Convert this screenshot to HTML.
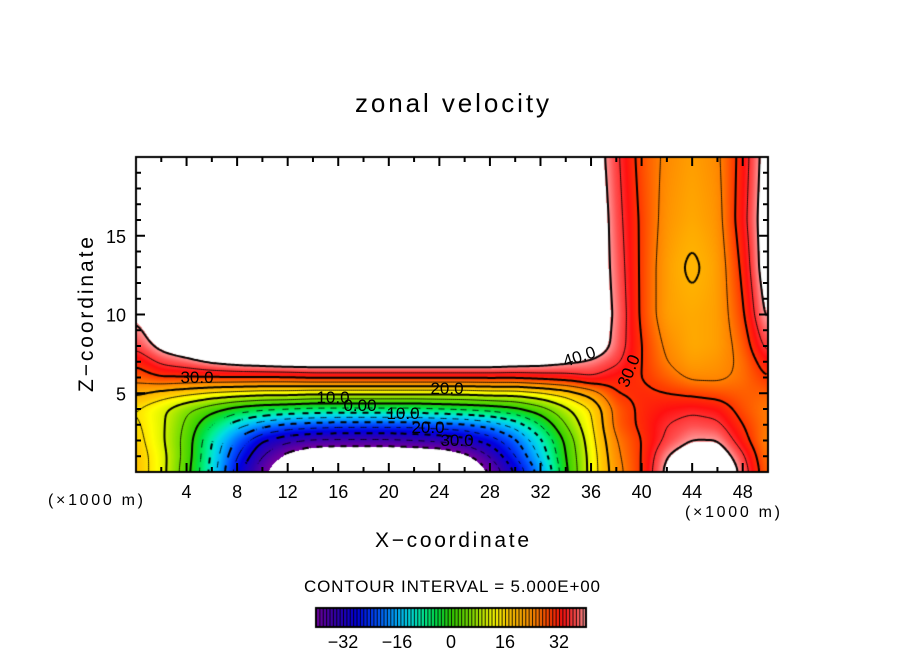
<!DOCTYPE html>
<html>
<head>
<meta charset="utf-8">
<style>
  html,body{margin:0;padding:0;background:#fff;}
  #root{position:relative;width:904px;height:654px;overflow:hidden;background:#fff;font-family:"Liberation Sans",sans-serif;}
  canvas{position:absolute;left:0;top:0;}
  svg{position:absolute;left:0;top:0;}
  text{font-family:"Liberation Sans",sans-serif;fill:#000;}
</style>
</head>
<body>
<div id="root">
<canvas id="field" width="904" height="654"></canvas>
<svg id="ov" width="904" height="654">
  <text x="355" y="112" font-size="26" textLength="194" lengthAdjust="spacing">zonal velocity</text>
  <text x="375" y="547" font-size="21" textLength="154" lengthAdjust="spacing">X−coordinate</text>
  <text transform="translate(93,392) rotate(-90)" font-size="21" textLength="155" lengthAdjust="spacing">Z−coordinate</text>
  <text x="48" y="505" font-size="16" textLength="95" lengthAdjust="spacing">(×1000 m)</text>
  <text x="685" y="517" font-size="16" textLength="95" lengthAdjust="spacing">(×1000 m)</text>
  <text x="304" y="592" font-size="17" textLength="296" lengthAdjust="spacing">CONTOUR INTERVAL = 5.000E+00</text>
  <g id="labels" font-size="17">
    <text x="197" y="383" text-anchor="middle">30.0</text>
    <text x="447" y="394" text-anchor="middle">20.0</text>
    <text x="333" y="403" text-anchor="middle">10.0</text>
    <text x="360" y="411" text-anchor="middle">0.00</text>
    <text x="403" y="419" text-anchor="middle">10.0</text>
    <text x="428" y="433" text-anchor="middle">20.0</text>
    <text x="457" y="446" text-anchor="middle">30.0</text>
    <text transform="translate(581,362) rotate(-18)" text-anchor="middle">40.0</text>
    <text transform="translate(634,373) rotate(-68)" text-anchor="middle">30.0</text>
  </g>
</svg>
</div>
<script>
// ---- data ----
const xs = [0,2,4,6,8,10,12,14,16,18,20,22,24,26,28,30,32,34,36,38,40,42,44,46,48,50];
const zs = [0,1,2,3,4,5,6,7,8,10,13,16,20];
const u_z0  = [18,12,2,-12,-28,-39,-48,-50,-50,-50,-50,-50,-50,-48,-40,-30,-18,-1,12,23,30,42,50,50,38,26];
const u_z1  = [18,12,3,-11,-25,-35,-42,-46,-47,-47,-47,-47,-46,-42,-35,-25,-14,0,12,24,30,40,45,45,36,25];
const u_z2  = [17,11,3,-10,-21,-30,-34,-36,-36,-36,-36,-35,-34,-32,-28,-21,-11,1,13,25,30,36,40,40,32,24];
const u_z3  = [16,11,4,-5,-13,-18,-21,-22,-23,-23,-23,-23,-22,-21,-18,-13,-5,5,14,27,31,35,37,36,30,25];
const u_z4  = [15,11,6,2,-2,-4,-5,-6,-6,-6,-6,-6,-5,-4,-3,-1,3,9,15,27,31,33,34,33,28,25];
const u_z5  = [21,18,16,14,13,12,12,11,11,11,11,11,11,11,12,12,14,17,22,30,31,30,29,28,27,27];
const u_z6  = [27,30,30,30,30,30,30,31,31,31,31,31,31,31,31,31,32,33,35,32,30,27,24,24,26,30];
const u_z7  = [31,36,38,41,43,44,45,45,45,45,45,45,45,45,45,44,43,41,39,36,30,25,22,23,26,33];
const u_z8  = [36,42,46,50,50,50,50,50,50,50,50,50,50,50,50,50,50,50,46,38,30,24,21,22,27,37];
const u_z10 = [41,48,50,50,50,50,50,50,50,50,50,50,50,50,50,50,50,50,46,39,29,22,21,22,29,42];
const u_z13 = [50,50,50,50,50,50,50,50,50,50,50,50,50,50,50,50,50,50,46,38,29,22,19,22,31,45];
const u_z16 = [50,50,50,50,50,50,50,50,50,50,50,50,50,50,50,50,50,50,47,37,29,23,21,23,33,45];
const u_z20 = [50,50,50,50,50,50,50,50,50,50,50,50,50,50,50,50,50,50,45,36,28,24,22,24,32,44];
const rows = [u_z0,u_z1,u_z2,u_z3,u_z4,u_z5,u_z6,u_z7,u_z8,u_z10,u_z13,u_z16,u_z20];
const levels = [-40,-35,-30,-25,-20,-15,-10,-5,0,5,10,15,20,25,30,35,40];
const xTicks = [4,8,12,16,20,24,28,32,36,40,44,48];
const zTicks = [5,10,15];
const cbTicks = [-32,-16,0,16,32];

// ---- axes ----
const L=136,R=768,T=157,B=472;
const X = x => L + x*(R-L)/50;
const Y = z => B - z*(B-T)/20;
const CBL=316, CBR=586, CBT=608, CBB=627;
const CX = v => CBL + (v+40)*(CBR-CBL)/80;

const stops=[[-40,[112,0,160]],[-34,[48,0,176]],[-28,[0,0,224]],[-22,[0,80,255]],[-16,[0,176,255]],[-12,[0,224,224]],[-8,[0,240,144]],[-4,[0,224,64]],[0,[48,208,0]],[6,[128,224,0]],[10,[208,240,0]],[13,[255,255,0]],[17,[255,200,0]],[21,[255,170,0]],[25,[255,128,0]],[29,[255,64,0]],[33,[255,16,16]],[37,[255,80,80]],[40,[255,154,154]]];
function cmap(v){
  if(v<=stops[0][0]) return stops[0][1];
  for(let i=0;i<stops.length-1;i++){
    const a=stops[i],b=stops[i+1];
    if(v<=b[0]){const t=(v-a[0])/(b[0]-a[0]);return [0,1,2].map(k=>Math.round(a[1][k]+t*(b[1][k]-a[1][k])));}
  }
  return stops[stops.length-1][1];
}
function val(x,z){
  let i=Math.min(Math.max(Math.floor(x/2),0),xs.length-2);
  const tx=Math.min(Math.max((x-xs[i])/(xs[i+1]-xs[i]),0),1);
  let j=0; while(j<zs.length-2 && z>zs[j+1]) j++;
  const tz=Math.min(Math.max((z-zs[j])/(zs[j+1]-zs[j]),0),1);
  const a=rows[j][i],b=rows[j][i+1],c=rows[j+1][i],d=rows[j+1][i+1];
  return (a*(1-tx)+b*tx)*(1-tz)+(c*(1-tx)+d*tx)*tz;
}
const cv=document.getElementById('field');
const ctx=cv.getContext('2d');
const W=R-L,H=B-T;
let F=new Float32Array(W*H);
for(let py=0;py<H;py++){
  const z=(B-(T+py+0.5))*20/(B-T);
  for(let px=0;px<W;px++) F[py*W+px]=val((px+0.5)*50/W,z);
}
function blurPass(src,rad){
  const tmp=new Float32Array(W*H), out=new Float32Array(W*H);
  for(let y=0;y<H;y++)for(let x=0;x<W;x++){
    let s=0,n=0;for(let k=-rad;k<=rad;k++){const xx=Math.min(Math.max(x+k,0),W-1);s+=src[y*W+xx];n++;}
    tmp[y*W+x]=s/n;
  }
  for(let y=0;y<H;y++)for(let x=0;x<W;x++){
    let s=0,n=0;for(let k=-rad;k<=rad;k++){const yy=Math.min(Math.max(y+k,0),H-1);s+=tmp[yy*W+x];n++;}
    out[y*W+x]=s/n;
  }
  return out;
}
F=blurPass(F,4);F=blurPass(F,4);F=blurPass(F,4);
const img=ctx.createImageData(W,H);
for(let p=0;p<W*H;p++){
  const v=F[p];const o=p*4;
  let c=[255,255,255];
  if(v>=-40.5 && v<=40.5) c=cmap(v);
  img.data[o]=c[0];img.data[o+1]=c[1];img.data[o+2]=c[2];img.data[o+3]=255;
}
ctx.putImageData(img,L,T);

const S=2, NX=Math.floor((W-1)/S), NY=Math.floor((H-1)/S);
const g=[];
for(let j=0;j<=NY;j++){g.push([]);for(let i=0;i<=NX;i++){g[j].push(F[(j*S)*W+(i*S)]);}}
ctx.save();
ctx.beginPath();ctx.rect(L,T,W,H);ctx.clip();
levels.forEach(lv=>{
  const thick = (lv%10===0);
  ctx.strokeStyle='#000';
  ctx.lineWidth = thick?2:0.9;
  ctx.beginPath();
  for(let j=0;j<NY;j++)for(let i=0;i<NX;i++){
    if(lv<0 && Math.floor((i+j)/3)%2===1) continue;
    const p=[[i,j,g[j][i]],[i+1,j,g[j][i+1]],[i+1,j+1,g[j+1][i+1]],[i,j+1,g[j+1][i]]];
    const pts=[];
    for(let k=0;k<4;k++){
      const a=p[k],b=p[(k+1)%4];
      if((a[2]<lv)!==(b[2]<lv)){
        const t=(lv-a[2])/(b[2]-a[2]);
        pts.push([L+0.5+(a[0]+t*(b[0]-a[0]))*S, T+0.5+(a[1]+t*(b[1]-a[1]))*S]);
      }
    }
    for(let k=0;k+1<pts.length;k+=2){ctx.moveTo(pts[k][0],pts[k][1]);ctx.lineTo(pts[k+1][0],pts[k+1][1]);}
  }
  ctx.stroke();
});
ctx.restore();

ctx.strokeStyle='#000';ctx.lineWidth=2;ctx.strokeRect(L,T,W,H);
for(let v=-40;v<40;v++){
  const c=cmap(v+0.5);
  ctx.fillStyle='rgb('+c.join(',')+')';
  ctx.fillRect(CX(v),CBT,CX(v+1)-CX(v)+0.5,CBB-CBT);
  ctx.fillStyle='#000';
  ctx.fillRect(CX(v),CBT,1,CBB-CBT);
}
ctx.lineWidth=2;ctx.strokeRect(CBL,CBT,CBR-CBL,CBB-CBT);

const ov=document.getElementById('ov');
const NS='http://www.w3.org/2000/svg';
function line(x1,y1,x2,y2,name){
  const l=document.createElementNS(NS,'line');
  l.setAttribute('x1',x1);l.setAttribute('y1',y1);l.setAttribute('x2',x2);l.setAttribute('y2',y2);
  l.setAttribute('stroke','#000');l.setAttribute('stroke-width','2');
  
  
  ov.appendChild(l);
}
function txt(x,y,s,name){
  const t=document.createElementNS(NS,'text');
  t.setAttribute('x',x);t.setAttribute('y',y);t.setAttribute('font-size','18');t.setAttribute('text-anchor','middle');
  t.textContent=s;
  
  
  ov.appendChild(t);
}
for(let x=2;x<50;x+=2){
  const len=(x%4===0)?9:5;
  line(X(x),B,X(x),B-len,'x-tick');
  line(X(x),T,X(x),T+len,'x-tick-top');
}
for(let z=1;z<20;z++){
  const len=(z%5===0)?9:5;
  line(L,Y(z),L+len,Y(z),'y-tick');
  line(R,Y(z),R-len,Y(z),'y-tick-right');
}
xTicks.forEach(x=>txt(X(x),B+26,String(x),'x-tick-label'));
zTicks.forEach(z=>{
  const t=document.createElementNS(NS,'text');
  t.setAttribute('x',L-10);t.setAttribute('y',Y(z)+7);t.setAttribute('font-size','18');t.setAttribute('text-anchor','end');
  t.textContent=String(z);
  
  
  ov.appendChild(t);
});
cbTicks.forEach(v=>txt(CX(v),648,(v<0?'−'+(-v):String(v)),'colorbar-tick-label'));
</script>
</body>
</html>
